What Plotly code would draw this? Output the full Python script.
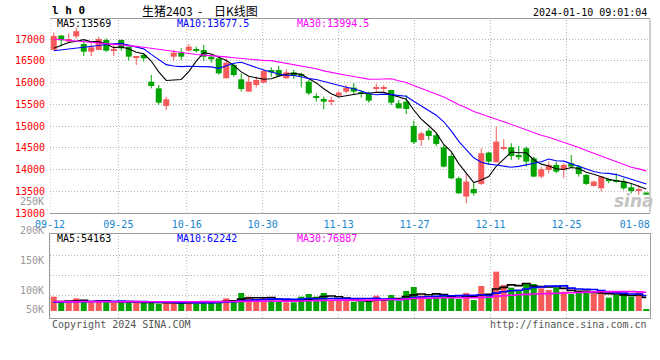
import plotly.graph_objects as go

# ---------------- data ----------------
opens = [16750, 17080, 16940, 17060, 16885, 16709, 16747, 16977, 16747, 16977,
         16824, 16580, 16632, 16020, 15866, 15460, 16594, 16686, 16732, 16770,
         16747, 16594, 16556, 16096, 16403, 16073, 15790, 15943, 15997, 16288,
         16288, 16096, 16234, 16188, 16020, 15674, 15621, 15575, 15698, 15790,
         15882, 15767, 15751, 15851, 15866, 15828, 15522, 15560, 15001, 14679,
         14893, 14787, 14511, 14311, 13798, 13377, 13553, 13668, 14388, 14166,
         14480, 14511, 14334, 14488, 14258, 13837, 13990, 14105, 14005, 14143,
         14066, 13875, 13622, 13568, 13768, 13760, 13722, 13592, 13515, 13469]
closes = [17070, 16970, 17000, 17180, 16709, 16809, 17000, 16732, 16760, 16786,
          16594, 16610, 16556, 15920, 15537, 15614, 16686, 16594, 16824, 16732,
          16594, 16533, 16211, 16456, 16173, 15851, 16020, 16058, 16265, 16234,
          16157, 16234, 16157, 16157, 15751, 15652, 15560, 15598, 15767, 15882,
          15790, 15736, 15583, 15882, 15874, 15537, 15407, 15391, 14626, 14832,
          14771, 14587, 14066, 13798, 13454, 13722, 13454, 14373, 14181, 14641,
          14511, 14311, 14281, 14181, 13837, 14005, 14105, 13951, 14105, 14066,
          13898, 13668, 13722, 13837, 13753, 13722, 13568, 13507, 13546, 13423]
highs = [17150, 17090, 17130, 17260, 16939, 16900, 17054, 17015, 16862, 16992,
         16862, 16610, 16670, 16173, 15943, 15675, 16747, 16786, 16885, 16824,
         16862, 16632, 16556, 16556, 16441, 16211, 16135, 16135, 16303, 16349,
         16380, 16303, 16288, 16226, 16058, 15751, 15675, 15675, 15805, 15943,
         15981, 15828, 15790, 15981, 15943, 15828, 15598, 15713, 15123, 14871,
         14947, 14832, 14564, 14373, 13837, 13913, 13683, 14488, 14411, 14986,
         14695, 14603, 14541, 14526, 14296, 14066, 14181, 14181, 14143, 14334,
         14105, 13898, 13745, 13837, 13798, 13913, 13798, 13668, 13645, 13469]
lows = [16740, 16830, 16920, 17010, 16610, 16610, 16747, 16709, 16610, 16732,
        16502, 16403, 16480, 15866, 15484, 15368, 16502, 16517, 16709, 16686,
        16502, 16456, 16180, 16096, 16135, 15790, 15790, 15889, 15981, 16135,
        16135, 16096, 16081, 15889, 15713, 15560, 15384, 15483, 15675, 15751,
        15713, 15652, 15537, 15790, 15767, 15484, 15407, 15277, 14587, 14541,
        14679, 14541, 14051, 13775, 13438, 13224, 13400, 13645, 14105, 14166,
        14449, 14220, 14220, 14066, 13821, 13798, 13913, 13913, 13798, 14028,
        13837, 13645, 13607, 13492, 13683, 13699, 13530, 13454, 13415, 13423]
volumes = [58050, 35100, 35100, 51300, 35100, 35100, 43200, 40500, 32400, 32400,
           40500, 35100, 35100, 32400, 29700, 35100, 35100, 32400, 35100, 29700,
           40500, 35100, 40500, 51300, 40500, 72900, 58050, 45900, 51300, 43200,
           40500, 35100, 35100, 58050, 68850, 58050, 72900, 44550, 44550, 44550,
           37800, 37800, 40500, 62100, 43200, 64800, 40500, 81000, 97200, 62100,
           48600, 58050, 64800, 58050, 48600, 72900, 44550, 101250, 68850, 159300,
           105300, 94500, 85050, 113400, 109350, 91800, 85050, 94500, 78300, 68850,
           72900, 82350, 71550, 71550, 54000, 64800, 64800, 58050, 81000, 8100]

# moving-average values before enough bars are visible
ma5_head = [16790, 16860, 16920, 16950]
ma10_head = [16730, 16750, 16775, 16800, 16825, 16845, 16865, 16880, 16890]
ma30_head = [17000, 16985, 16970, 16955, 16940, 16930, 16920, 16900, 16880, 16865,
             16850, 16830, 16810, 16785, 16760, 16740, 16720, 16690, 16660, 16645,
             16630, 16620, 16610, 16590, 16570, 16550, 16530, 16515, 16505]
vol_ma5_head = [37000, 38500, 40000, 41500]
vol_ma10_head = [36000, 36500, 37000, 37500, 38000, 38500, 39000, 39500, 39500]
vol_ma30_head = [38200, 38100, 38000, 38100, 38200, 38000, 37900, 37800, 37700, 37700,
                 37800, 37800, 37700, 37600, 37500, 37500, 37600, 37600, 37700, 37700,
                 37800, 37900, 38000, 38300, 38500, 39000, 39400, 39700, 40100]

date_labels = ["09-12", "09-25", "10-16", "10-30", "11-13", "11-27", "12-11", "12-25", "01-08"]
date_label_bars = [0, 9, 18, 28, 38, 48, 58, 68, 77]
price_ticks = [13000, 13500, 14000, 14500, 15000, 15500, 16000, 16500, 17000]
price_top_label = 17500
vol_labels = ["250K", "200K", "150K", "100K", "50K"]
price_ma_text = ["MA5:13569", "MA10:13677.5", "MA30:13994.5"]
vol_ma_text = ["MA5:54163", "MA10:62242", "MA30:76887"]
title_parts = ["生猪2403", "-", "日K线图"]
code_text = "l h 0"
time_text = "2024-01-10 09:01:04"
copyright_text = "Copyright 2024 SINA.COM"
url_text = "http://finance.sina.com.cn"

# ---------------- styling ----------------
RED = "#f65a5a"
GREEN = "#00a400"
MA_COLORS = ["#000000", "#0000ff", "#ff00ff"]
GRID = "#b4b4b4"
FRAME = "#9c9c9c"
MONO = "DejaVu Sans Mono"
CJK = "Noto Sans CJK SC"

W, H = 660, 360
L, R, T, B = 50, 10, 19, 42
PW, PH = W - L - R, H - T - B
PRICE_BOTTOM_PX, VOL_TOP_PX = 213, 234


def px_x(p):
    return (p - L) / PW


def px_y(p):
    return (H - B - p) / PH


def moving_average(vals, n, head):
    out = list(head)
    for i in range(len(head), len(vals)):
        out.append(sum(vals[i - n + 1:i + 1]) / n)
    return out


n = len(closes)
xs = list(range(n))
colors = [RED if c >= o else GREEN for o, c in zip(opens, closes)]

min_body = 24
body_base = []
body_h = []
for o, c in zip(opens, closes):
    lo, hi = min(o, c), max(o, c)
    if hi - lo < min_body:
        mid = (hi + lo) / 2
        lo, hi = mid - min_body / 2, mid + min_body / 2
    body_base.append(lo)
    body_h.append(hi - lo)

fig = go.Figure()

# wicks
for col in (RED, GREEN):
    wx, wy = [], []
    for i in xs:
        if colors[i] == col:
            wx += [i, i, None]
            wy += [lows[i], highs[i], None]
    fig.add_trace(go.Scatter(x=wx, y=wy, mode="lines", line=dict(color=col, width=1),
                             hoverinfo="skip", xaxis="x", yaxis="y"))

fig.add_trace(go.Bar(x=xs, y=body_h, base=body_base, width=0.8, marker=dict(color=colors, line=dict(width=0)),
                     xaxis="x", yaxis="y"))

price_mas = [moving_average(closes, 5, ma5_head), moving_average(closes, 10, ma10_head),
             moving_average(closes, 30, ma30_head)]
for ma, col in zip(price_mas, MA_COLORS):
    fig.add_trace(go.Scatter(x=xs, y=ma, mode="lines", line=dict(color=col, width=1.1),
                             xaxis="x", yaxis="y"))

# volume
fig.add_trace(go.Bar(x=xs, y=volumes, width=0.8, marker=dict(color=colors, line=dict(width=0)),
                     xaxis="x2", yaxis="y2"))
vol_mas = [moving_average(volumes, 5, vol_ma5_head), moving_average(volumes, 10, vol_ma10_head),
           moving_average(volumes, 30, vol_ma30_head)]
for ma, col in zip(vol_mas, MA_COLORS):
    fig.add_trace(go.Scatter(x=xs, y=ma, mode="lines", line=dict(color=col, width=1.6, shape="hvh"),
                             xaxis="x2", yaxis="y2"))

# Sina places date grid lines using (n-1) spacing across the panel
grid_x = [n * k / (n - 1) - 0.5 for k in date_label_bars]

price_dom = [px_y(PRICE_BOTTOM_PX), 1]
vol_dom = [0, px_y(VOL_TOP_PX)]
vol_per_px = 4050
vol_range = [-(H - B - 311) * vol_per_px, (311 - VOL_TOP_PX) * vol_per_px]
vol_grid = [(311 - p) * vol_per_px for p in (255.3, 275.5, 295.7)]

fig.update_layout(
    width=W, height=H, margin=dict(l=L, r=R, t=T, b=B, autoexpand=False),
    paper_bgcolor="white", plot_bgcolor="white", showlegend=False, barmode="overlay",
    xaxis=dict(domain=[0, 1], anchor="y", range=[-0.5, n - 0.5], showgrid=False, zeroline=False,
               showline=True, mirror=True, linecolor=FRAME, linewidth=1,
               tickmode="array", tickvals=grid_x, ticktext=date_labels, ticks="outside",
               ticklen=2, tickcolor="rgba(0,0,0,0)",
               tickfont=dict(family=MONO, size=10, color="#1a86d0")),
    yaxis=dict(domain=price_dom, anchor="x", range=[13000, 17460], tickmode="array", tickvals=price_ticks,
               ticktext=[str(v) for v in price_ticks], showgrid=True, gridcolor=GRID, griddash="1px,2px",
               gridwidth=1, zeroline=False, showline=False, ticks="outside", ticklen=2,
               tickcolor="rgba(0,0,0,0)", tickfont=dict(family=MONO, size=10, color="#ff0000")),
    xaxis2=dict(domain=[0, 1], anchor="y2", range=[-0.5, n - 0.5], showgrid=False, zeroline=False,
                showline=True, mirror=True, linecolor=FRAME, linewidth=1, showticklabels=False, ticks=""),
    yaxis2=dict(domain=vol_dom, anchor="x2", range=vol_range, tickmode="array", tickvals=vol_grid,
                showticklabels=False, showgrid=True, gridcolor=GRID, griddash="1px,2px", zeroline=False,
                showline=True, mirror=True, linecolor=FRAME, linewidth=1, ticks=""),
)

shapes = []
for gx in grid_x[:-1]:
    for xr, yr in (("x", "y domain"), ("x2", "y2 domain")):
        shapes.append(dict(type="line", xref=xr, yref=yr, x0=gx, x1=gx, y0=0, y1=1,
                           line=dict(color=GRID, width=1, dash="1px,2px"), layer="below"))
shapes.append(dict(type="line", xref="x domain", yref="y domain", x0=1, x1=1, y0=0, y1=1,
                   line=dict(color=FRAME, width=1)))
fig.update_layout(shapes=shapes)

ann = []


def text(s, x, y, color="#000", size=10, anchor="left", family=MONO, yanchor="middle"):
    ann.append(dict(text=s, xref="paper", yref="paper", x=px_x(x), y=px_y(y), xanchor=anchor,
                    yanchor=yanchor, showarrow=False, font=dict(family=family, size=size, color=color)))


ann.append(dict(text=str(price_top_label), xref="paper", yref="y", x=px_x(46), y=price_top_label,
                xanchor="right", yanchor="middle", showarrow=False,
                font=dict(family=MONO, size=10, color="#ff0000")))
text("<b>" + code_text + "</b>", 50, 10, size=11)
text(title_parts[0], 140, 10, size=12, family=CJK)
text(title_parts[1], 200, 10, size=12, family=CJK, anchor="center")
text(title_parts[2], 212, 10, size=12, family=CJK)
text(time_text, 649, 12, anchor="right")
for s, x, col in zip(price_ma_text, (55, 175, 295), MA_COLORS):
    text(s, x, 23.7, color=col)
for s, x, col in zip(vol_ma_text, (55, 175, 295), MA_COLORS):
    text(s, x, 238.5, color=col)
for s, y in zip(vol_labels, (201, 230.7, 260.5, 290, 309)):
    text(s, 46, y, color="#999999", anchor="right")
text(copyright_text, 50, 324, color="#555555")
text(url_text, 649, 324, color="#555555", anchor="right")
text("<i><b>sina</b></i>", 634, 201, color="#c4c4c4", size=17, anchor="center", family="DejaVu Sans")
fig.update_layout(annotations=ann)

fig.write_html("out.html", config={"displayModeBar": False},
               post_script="document.body.style.margin='0px';document.body.style.padding='0px';"
                           "document.body.style.overflow='hidden';")
